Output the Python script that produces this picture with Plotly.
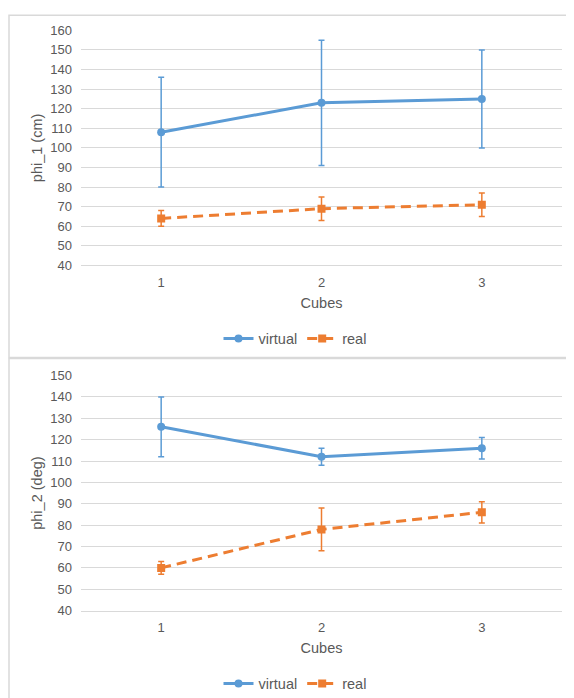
import plotly.graph_objects as go

cubes = ["1", "2", "3"]

phi1_virtual = [108, 123, 125]
phi1_virtual_err = [28, 32, 25]
phi1_real = [64, 69, 71]
phi1_real_err = [4, 6, 6]

phi2_virtual = [126, 112, 116]
phi2_virtual_err = [14, 4, 5]
phi2_real = [60, 78, 86]
phi2_real_err = [3, 10, 5]

BLUE = "#5B9BD5"
ORANGE = "#ED7D31"
GRID = "#D9D9D9"
TEXT = "#595959"
FONT = "Liberation Sans, Arial, sans-serif"

W, H = 574, 698
XOFF = 8

def px_x(v):
    return (v - XOFF) / W

def px_y(v):
    f = v / 0.978 - 15
    return 1 - f / H

fig = go.Figure()

def add_pair(xa, ya, legend, v, ve, r, re):
    fig.add_trace(go.Scatter(
        x=cubes, y=v, name="virtual", mode="lines+markers",
        xaxis=xa, yaxis=ya, legend=legend,
        line=dict(color=BLUE, width=3),
        marker=dict(symbol="circle", size=8, color=BLUE),
        error_y=dict(type="data", array=ve, visible=True, color=BLUE, thickness=1.5, width=3),
    ))
    fig.add_trace(go.Scatter(
        x=cubes, y=r, name="real", mode="lines+markers",
        xaxis=xa, yaxis=ya, legend=legend,
        line=dict(color=ORANGE, width=3, dash="10px,6px"),
        marker=dict(symbol="square", size=8, color=ORANGE),
        error_y=dict(type="data", array=re, visible=True, color=ORANGE, thickness=1.5, width=3),
    ))

add_pair("x", "y", "legend", phi1_virtual, phi1_virtual_err, phi1_real, phi1_real_err)
add_pair("x2", "y2", "legend2", phi2_virtual, phi2_virtual_err, phi2_real, phi2_real_err)

xdom = [px_x(81), px_x(562)]
common_x = dict(
    type="category", categoryorder="array", categoryarray=cubes,
    range=[-0.5, 2.5], domain=xdom, showgrid=False, zeroline=False,
    showline=True, linecolor=GRID, linewidth=1, ticks="", ticklabelstandoff=5,
    tickfont=dict(size=13, color=TEXT, family=FONT),
    title=dict(text="Cubes", font=dict(size=14.5, color=TEXT, family=FONT), standoff=8),
)
common_y = dict(
    dtick=10, showgrid=True, gridcolor=GRID, gridwidth=1, zeroline=False,
    showline=False, ticks="", ticklabelstandoff=8,
    tickfont=dict(size=13, color=TEXT, family=FONT),
)

fig.update_layout(
    width=W, height=H,
    margin=dict(l=0, r=0, t=0, b=0),
    paper_bgcolor="white", plot_bgcolor="white",
    font=dict(family=FONT, color=TEXT),
    xaxis=dict(common_x, anchor="y"),
    yaxis=dict(common_y, range=[40, 160], domain=[px_y(265), px_y(30)], anchor="x",
               title=dict(text="phi_1 (cm)", font=dict(size=14.5, color=TEXT, family=FONT), standoff=4)),
    xaxis2=dict(common_x, anchor="y2"),
    yaxis2=dict(common_y, range=[40, 150], domain=[px_y(610), px_y(375)], anchor="x2",
                title=dict(text="phi_2 (deg)", font=dict(size=14.5, color=TEXT, family=FONT), standoff=4)),
    legend=dict(orientation="h", x=px_x(295), xanchor="center", y=px_y(338), yanchor="middle",
                font=dict(size=14.5, color=TEXT, family=FONT), bgcolor="rgba(0,0,0,0)"),
    legend2=dict(orientation="h", x=px_x(295), xanchor="center", y=px_y(683), yanchor="middle",
                 font=dict(size=14.5, color=TEXT, family=FONT), bgcolor="rgba(0,0,0,0)"),
    showlegend=True,
    shapes=[
        dict(type="rect", xref="paper", yref="paper", x0=px_x(9), x1=px_x(600), y0=px_y(357), y1=px_y(15),
             line=dict(color=GRID, width=1.5), fillcolor="rgba(0,0,0,0)", layer="below"),
        dict(type="rect", xref="paper", yref="paper", x0=px_x(9), x1=px_x(600), y0=-0.1, y1=px_y(358),
             line=dict(color=GRID, width=1.5), fillcolor="rgba(0,0,0,0)", layer="below"),
    ],
)

fig.write_html("out.html")
